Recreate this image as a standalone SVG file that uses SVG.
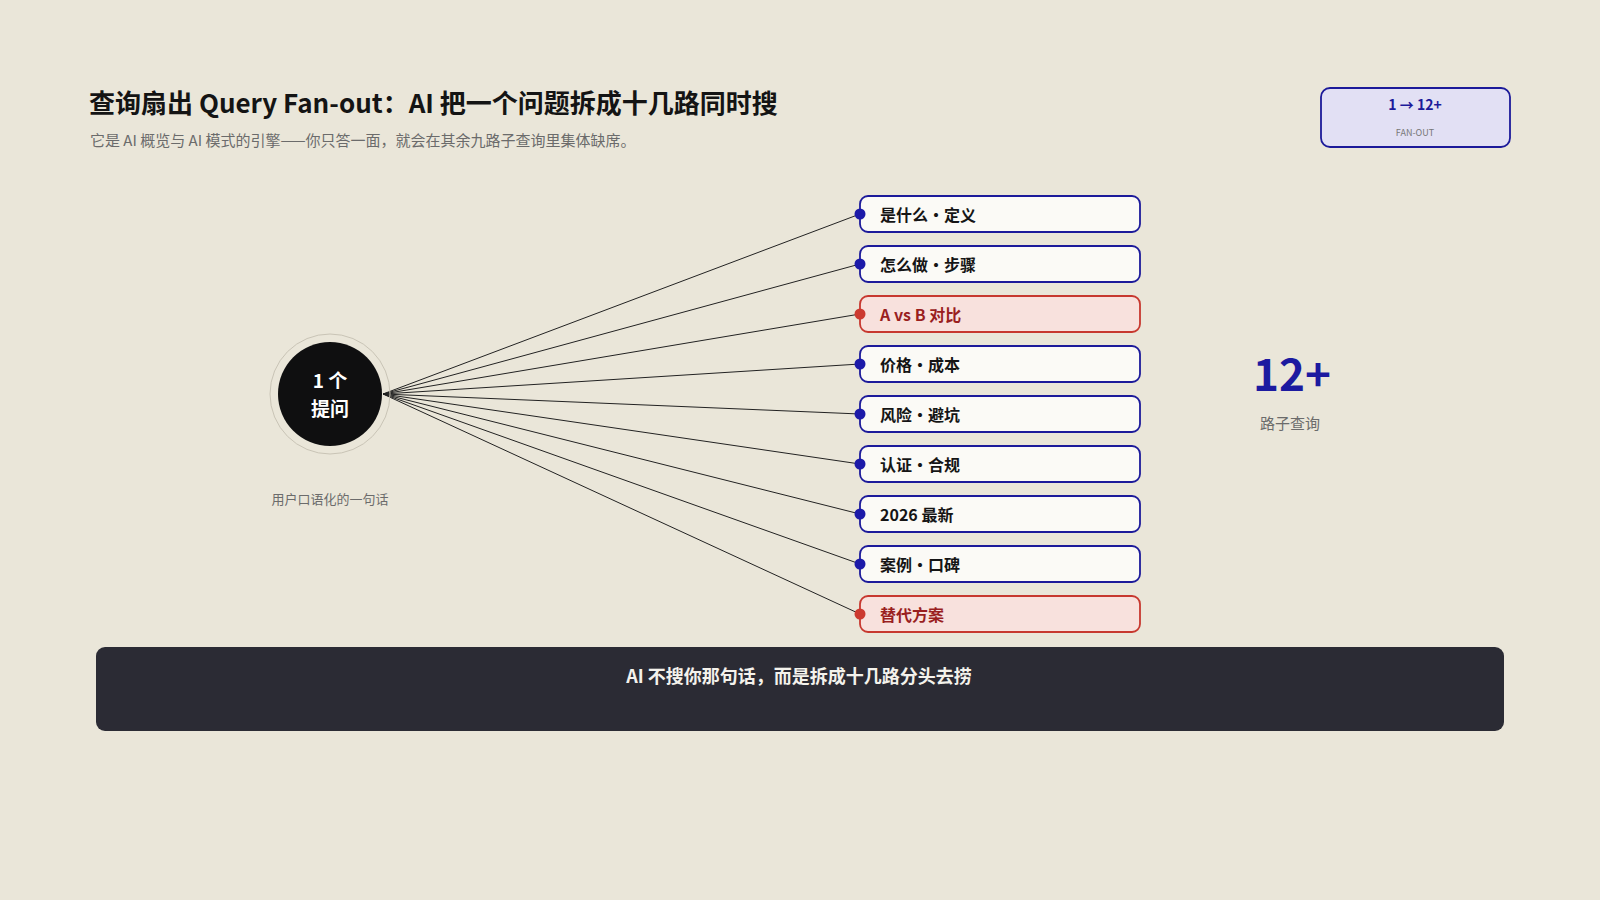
<svg xmlns="http://www.w3.org/2000/svg" width="1600" height="900" viewBox="0 0 1600 900">
<style>
text{font-family:"Noto Sans CJK SC","Noto Sans",sans-serif}
.title{font-size:26px;font-weight:700;fill:#141414}
.sub{font-size:15px;fill:#6b6b6b}
.lbl{font-size:16px;font-weight:700;fill:#151515;dominant-baseline:central}
.lblr{font-size:16px;font-weight:700;fill:#9a1f1f;dominant-baseline:central}
.box{fill:#fbfaf6;stroke:#1c1a9a;stroke-width:1.8}
.boxr{fill:#f8e1dd;stroke:#c7382f;stroke-width:1.8}
.dot{fill:#1c1aa8}
.dotr{fill:#cc3a30}
.conn{stroke:#222;stroke-width:1;fill:none}
.gray{fill:#6b6b6b}
</style>
<rect width="1600" height="900" fill="#eae6d9"/>
<g id="header">
<text class="title" x="89" y="113">查询扇出 Query Fan-out：AI 把一个问题拆成十几路同时搜</text>
<text class="sub" x="90" y="146">它是 AI 概览与 AI 模式的引擎——你只答一面，就会在其余九路子查询里集体缺席。</text>
</g>
<g id="badge">
<rect x="1321" y="88" width="189" height="59" rx="9" fill="#e2e0f4" stroke="#1c1a9a" stroke-width="1.8"/>
<text x="1415" y="104" text-anchor="middle" dominant-baseline="central" font-size="14" font-weight="700" fill="#1c1a9a">1 → 12+</text>
<text x="1415" y="132" text-anchor="middle" dominant-baseline="central" font-size="9" fill="#777">FAN-OUT</text>
</g>
<g id="connectors">
<line class="conn" x1="383" y1="394" x2="860" y2="214"/>
<line class="conn" x1="383" y1="394" x2="860" y2="264"/>
<line class="conn" x1="383" y1="394" x2="860" y2="314"/>
<line class="conn" x1="383" y1="394" x2="860" y2="364"/>
<line class="conn" x1="383" y1="394" x2="860" y2="414"/>
<line class="conn" x1="383" y1="394" x2="860" y2="464"/>
<line class="conn" x1="383" y1="394" x2="860" y2="514"/>
<line class="conn" x1="383" y1="394" x2="860" y2="564"/>
<line class="conn" x1="383" y1="394" x2="860" y2="614"/>
</g>
<g id="source">
<circle cx="330" cy="394" r="60" fill="none" stroke="#c9c4b6" stroke-width="1"/>
<circle cx="330" cy="394" r="52" fill="#0f0f10"/>
<text x="330" y="379" text-anchor="middle" dominant-baseline="central" font-size="19" font-weight="700" fill="#fff">1 个</text>
<text x="330" y="407" text-anchor="middle" dominant-baseline="central" font-size="19" font-weight="700" fill="#fff">提问</text>
<text x="330" y="498" text-anchor="middle" dominant-baseline="central" font-size="13" class="gray">用户口语化的一句话</text>
</g>
<g id="q1"><rect class="box" x="860" y="196" width="280" height="36" rx="8"/><circle class="dot" cx="860" cy="214" r="5.5"/><text class="lbl" x="880" y="214">是什么・定义</text></g>
<g id="q2"><rect class="box" x="860" y="246" width="280" height="36" rx="8"/><circle class="dot" cx="860" cy="264" r="5.5"/><text class="lbl" x="880" y="264">怎么做・步骤</text></g>
<g id="q3"><rect class="boxr" x="860" y="296" width="280" height="36" rx="8"/><circle class="dotr" cx="860" cy="314" r="5.5"/><text class="lblr" x="880" y="314">A vs B 对比</text></g>
<g id="q4"><rect class="box" x="860" y="346" width="280" height="36" rx="8"/><circle class="dot" cx="860" cy="364" r="5.5"/><text class="lbl" x="880" y="364">价格・成本</text></g>
<g id="q5"><rect class="box" x="860" y="396" width="280" height="36" rx="8"/><circle class="dot" cx="860" cy="414" r="5.5"/><text class="lbl" x="880" y="414">风险・避坑</text></g>
<g id="q6"><rect class="box" x="860" y="446" width="280" height="36" rx="8"/><circle class="dot" cx="860" cy="464" r="5.5"/><text class="lbl" x="880" y="464">认证・合规</text></g>
<g id="q7"><rect class="box" x="860" y="496" width="280" height="36" rx="8"/><circle class="dot" cx="860" cy="514" r="5.5"/><text class="lbl" x="880" y="514">2026 最新</text></g>
<g id="q8"><rect class="box" x="860" y="546" width="280" height="36" rx="8"/><circle class="dot" cx="860" cy="564" r="5.5"/><text class="lbl" x="880" y="564">案例・口碑</text></g>
<g id="q9"><rect class="boxr" x="860" y="596" width="280" height="36" rx="8"/><circle class="dotr" cx="860" cy="614" r="5.5"/><text class="lblr" x="880" y="614">替代方案</text></g>
<g id="count">
<text x="1292" y="372" text-anchor="middle" dominant-baseline="central" font-size="44" font-weight="700" fill="#1c1aa0">12+</text>
<text x="1290" y="422" text-anchor="middle" dominant-baseline="central" font-size="15" class="gray">路子查询</text>
</g>
<g id="banner">
<rect x="96" y="647" width="1408" height="84" rx="9" fill="#2b2b34"/>
<text x="799" y="675" text-anchor="middle" dominant-baseline="central" font-size="18" font-weight="700" fill="#f4f2ec">AI 不搜你那句话，而是拆成十几路分头去捞</text>
</g>
</svg>
